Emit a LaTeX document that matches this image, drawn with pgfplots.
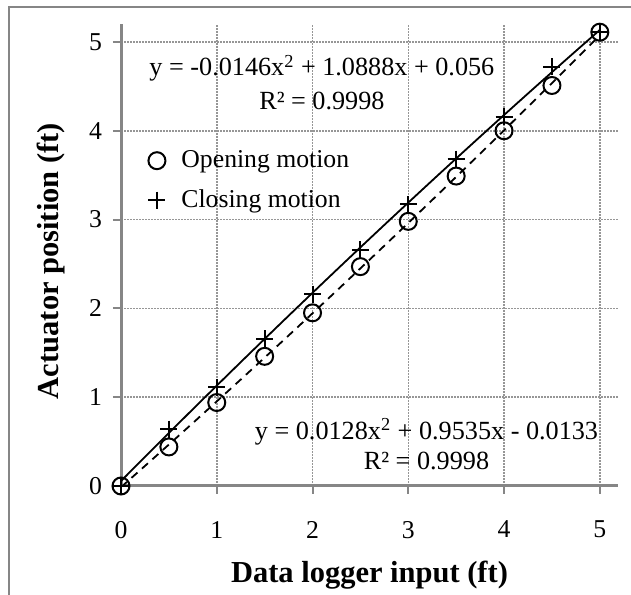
\documentclass[border=0pt]{standalone}
\usepackage{pgfplots}
\pgfplotsset{compat=1.18}
\usepackage{fontspec}
\setmainfont{Liberation Serif}
\definecolor{axgray}{RGB}{134,134,134}
\definecolor{gridgray}{RGB}{150,150,150}

\pgfplotstableread{
x y
0 0
0.5 0.44
1 0.94
1.5 1.46
2 1.95
2.5 2.47
3 2.98
3.5 3.49
4 4.00
4.5 4.51
5 5.11
}\opening
\pgfplotstableread{
x y
0 0
0.5 0.64
1 1.11
1.5 1.66
2 2.16
2.5 2.66
3 3.17
3.5 3.68
4 4.16
4.5 4.72
5 5.11
}\closing

\begin{document}
\begin{tikzpicture}[x=1bp,y=1bp]
\useasboundingbox (0,0) rectangle (315.5,297.5);
\draw[axgray, line width=1bp] (4.75,0) -- (4.75,293.75) -- (315.5,293.75);
\begin{axis}[
  at={(60.5bp,54.5bp)}, anchor=south west,
  scale only axis, width=248.5bp, height=230.9bp,
  xmin=0, xmax=5.19, ymin=0, ymax=5.2,
  axis x line*=bottom, axis y line*=left,
  axis line style={-, axgray, line width=1.5bp},
  xtick={0,1,2,3,4,5}, ytick={0,1,2,3,4,5},
  tick align=outside, major tick length=4bp,
  tick style={axgray, line width=1bp},
  grid=major,
  grid style={gridgray, line width=0.75bp, dash pattern=on 0.75bp off 0.75bp},
  /pgf/number format/assume math mode=true,
  tick label style={font=\fontsize{12.9}{15}\selectfont},
  xticklabel style={yshift=-10bp},
  yticklabel style={xshift=-2bp},
  xlabel={Data logger input (ft)},
  label style={font=\fontsize{15.3}{18}\selectfont\bfseries},
  xlabel style={yshift=-4.5bp},
  legend cell align=left,
  legend image code/.code={\draw[mark repeat=2,mark phase=2,#1] plot coordinates {(0cm,0cm)(0.2cm,0cm)(0.4cm,0cm)};},
  legend style={at={(axis cs:0.22,3.87)}, anchor=north west, draw=none, fill=none,
    font=\fontsize{12.9}{15}\selectfont, row sep=5.5bp, column sep=6bp},
]
\addplot[only marks, mark=o, mark size=4.25bp, mark options={line width=1bp, black}] table[x=x,y=y] {\opening};
\addlegendentry{Opening motion}
\addplot[only marks, mark=+, mark size=4.25bp, mark options={line width=1bp, black}] table[x=x,y=y] {\closing};
\addlegendentry{Closing motion}
% closing trendline (solid)
\addplot[forget plot, black, line width=0.9bp, smooth] coordinates {
(0,0.056)(0.25,0.3273)(0.5,0.5967)(0.75,0.8644)(1,1.1302)(1.25,1.3942)(1.5,1.6563)(1.75,1.9167)(2,2.1752)(2.25,2.4319)(2.5,2.6868)(2.75,2.9398)(3,3.1910)(3.25,3.4404)(3.5,3.6879)(3.75,3.9337)(4,4.1776)(4.25,4.4197)(4.5,4.6599)(4.75,4.8984)(5,5.1350)};
% opening trendline (dashed)
\addplot[forget plot, black, line width=0.9bp, dash pattern=on 4bp off 3bp, smooth] coordinates {
(0,-0.0133)(0.25,0.2259)(0.5,0.4667)(0.75,0.7090)(1,0.9530)(1.25,1.1986)(1.5,1.4458)(1.75,1.6945)(2,1.9449)(2.25,2.1969)(2.5,2.4505)(2.75,2.7056)(3,2.9624)(3.25,3.2208)(3.5,3.4808)(3.75,3.7423)(4,4.0055)(4.25,4.2703)(4.5,4.5367)(4.75,4.8046)(5,5.0742)};
\node[anchor=base, font=\fontsize{13.15}{15}\selectfont] at (axis cs:2.098,4.617) {y = -0.0146x\textsuperscript{2} + 1.0888x + 0.056};
\node[anchor=base, font=\fontsize{13.15}{15}\selectfont] at (axis cs:2.098,4.245) {R² = 0.9998};
\node[anchor=base, font=\fontsize{13.15}{15}\selectfont] at (axis cs:3.19,0.529) {y = 0.0128x\textsuperscript{2} + 0.9535x - 0.0133};
\node[anchor=base, font=\fontsize{13.15}{15}\selectfont] at (axis cs:3.19,0.191) {R² = 0.9998};
\end{axis}
\node[rotate=90, anchor=center, font=\fontsize{15.3}{18}\selectfont\bfseries] at (25.5,167) {Actuator position (ft)};
\end{tikzpicture}
\end{document}
